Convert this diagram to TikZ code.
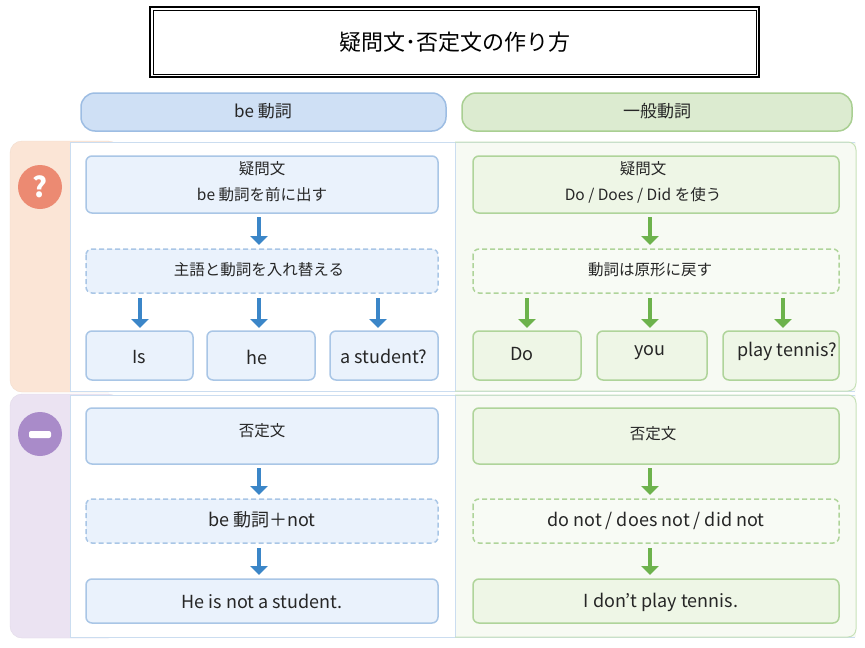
\documentclass[tikz,border=0pt]{standalone}
\usepackage{fontspec}
\setmainfont{Noto Sans CJK JP}
\usetikzlibrary{arrows.meta}
\definecolor{bfill}{HTML}{EAF2FC}
\definecolor{bline}{HTML}{A9C6E6}
\definecolor{barrow}{HTML}{3B86C8}
\definecolor{gfill}{HTML}{EEF6E6}
\definecolor{gline}{HTML}{AFD49A}
\definecolor{garrow}{HTML}{6DB24C}
\definecolor{bhead}{HTML}{CFE0F5}
\definecolor{bheadl}{HTML}{9DBDE3}
\definecolor{ghead}{HTML}{DCEBD0}
\definecolor{gheadl}{HTML}{A9CF92}
\definecolor{qcol}{HTML}{EC8A72}
\definecolor{qstrip}{HTML}{FBE5D6}
\definecolor{mcol}{HTML}{A98BC9}
\definecolor{mstrip}{HTML}{EBE3F2}
\begin{document}
\begin{tikzpicture}[x=1pt,y=-1pt,
 txt/.style={font=\fontsize{15.5}{18}\selectfont,text=black!85},
 big/.style={font=\fontsize{18}{21}\selectfont,text=black!85},
 bbox/.style={draw=bline,fill=bfill,line width=1.5pt,rounded corners=6pt},
 gbox/.style={draw=gline,fill=gfill,line width=1.5pt,rounded corners=6pt},
 bdash/.style={bbox,dash pattern=on 5pt off 3pt},
 gdash/.style={gbox,fill=white!60!gfill,dash pattern=on 5pt off 3pt},
 barr/.style={draw=barrow,line width=4.5pt,-{Triangle[length=9pt,width=17pt]}},
 garr/.style={draw=garrow,line width=4.5pt,-{Triangle[length=9pt,width=17pt]}}]
\useasboundingbox (0,0) rectangle (865,648);
\fill[white] (0,0) rectangle (865,648);
% title
\draw[line width=1.2pt] (150,7) rectangle (759,77);
\draw[line width=0.6pt] (153,10) rectangle (756,74);
\node[font=\fontsize{22}{26}\selectfont] (title) at (454.5,42) {疑問文･否定文の作り方};
% headers
\draw[draw=bheadl,fill=bhead,line width=1.5pt,rounded corners=14pt] (81,93) rectangle (446,131);
\node[big,font=\fontsize{17}{20}\selectfont] (hb) at (263,111) {be 動詞};
\draw[draw=gheadl,fill=ghead,line width=1.5pt,rounded corners=14pt] (462,93) rectangle (852,131);
\node[big,font=\fontsize{17}{20}\selectfont] (hg) at (657,111) {一般動詞};
% row panels
\draw[draw=qstrip!80!black!20!qstrip,fill=qstrip,rounded corners=12pt] (10,141) rectangle (120,392);
\fill[white] (70,142) rectangle (455,391);
\fill[gfill!50!white] (455,142) rectangle (856,391);
\draw[bline!60,line width=1pt] (70,142) -- (855,142) (70,391) -- (855,391) (70,142) -- (70,391) (455,142)--(455,391);
\draw[gline!70,line width=1pt,rounded corners=8pt] (455,142) -- (856,142) -- (856,391) -- (455,391);
\draw[draw=mstrip!80!black!20!mstrip,fill=mstrip,rounded corners=12pt] (10,394) rectangle (120,638);
\fill[white] (70,395) rectangle (455,637);
\fill[gfill!50!white] (455,395) rectangle (856,637);
\draw[bline!60,line width=1pt] (70,395) -- (855,395) (70,637) -- (855,637) (70,395) -- (70,637) (455,395)--(455,637);
\draw[gline!70,line width=1pt,rounded corners=8pt] (455,395) -- (856,395) -- (856,637) -- (455,637);
% icons
\node[circle,fill=qcol,minimum size=44pt,inner sep=0,text=white,font=\fontsize{28}{28}\selectfont\bfseries] (q) at (40,187) {?};
\node[circle,fill=mcol,minimum size=44pt,inner sep=0] (m) at (40,434) {};
\fill[white,rounded corners=2pt] (29,431) rectangle (51,438);
% left top
\draw[bbox] (86,156) rectangle (438,213);
\node[txt,align=center] (l1) at (262,182) {疑問文\\[8pt]be 動詞を前に出す};
\draw[bdash] (86,249) rectangle (438,293);
\node[txt] (l2) at (259,270) {主語と動詞を入れ替える};
\draw[bbox] (86,331) rectangle (193,380);
\draw[bbox] (207,331) rectangle (315,380);
\draw[bbox] (330,331) rectangle (438,380);
\node[big] (la) at (139,357) {Is};
\node[big] (lb) at (257,357) {he};
\node[big] (lc) at (384,356) {a student?};
\draw[barr] (259,217) -- (259,245);
\foreach \x in {140,259,378} \draw[barr] (\x,298) -- (\x,328);
% right top
\draw[gbox] (473,156) rectangle (839,213);
\node[txt,align=center] (r1) at (643,182) {疑問文\\[8pt]Do / Does / Did を使う};
\draw[gdash] (473,249) rectangle (839,293);
\node[txt] (r2) at (650,270) {動詞は原形に戻す};
\draw[gbox] (473,331) rectangle (581,380);
\draw[gbox] (597,331) rectangle (707,380);
\draw[gbox] (723,331) rectangle (839,380);
\node[big] (ra) at (522,354) {Do};
\node[big] (rb) at (650,353) {you};
\node[big] (rc) at (787,351) {play tennis?};
\draw[garr] (650,217) -- (650,245);
\foreach \x in {527,650,783} \draw[garr] (\x,298) -- (\x,328);
% left bottom
\draw[bbox] (86,408) rectangle (438,464);
\node[txt] (l3) at (262,431) {否定文};
\draw[barr] (259,468) -- (259,495);
\draw[bdash] (86,499) rectangle (438,543);
\node[big] (l4) at (262,520) {be 動詞＋not};
\draw[barr] (259,548) -- (259,575);
\draw[bbox] (86,579) rectangle (438,623);
\node[big] (l5) at (262,601) {He is not a student.};
% right bottom
\draw[gbox] (473,408) rectangle (839,464);
\node[txt] (r3) at (653,434) {否定文};
\draw[garr] (650,468) -- (650,495);
\draw[gdash] (473,499) rectangle (839,543);
\node[big] (r4) at (656,521) {do not / does not / did not};
\draw[garr] (650,548) -- (650,575);
\draw[gbox] (473,579) rectangle (839,623);
\node[big] (r5) at (661,602) {I don’t play tennis.};
\end{tikzpicture}
\end{document}
